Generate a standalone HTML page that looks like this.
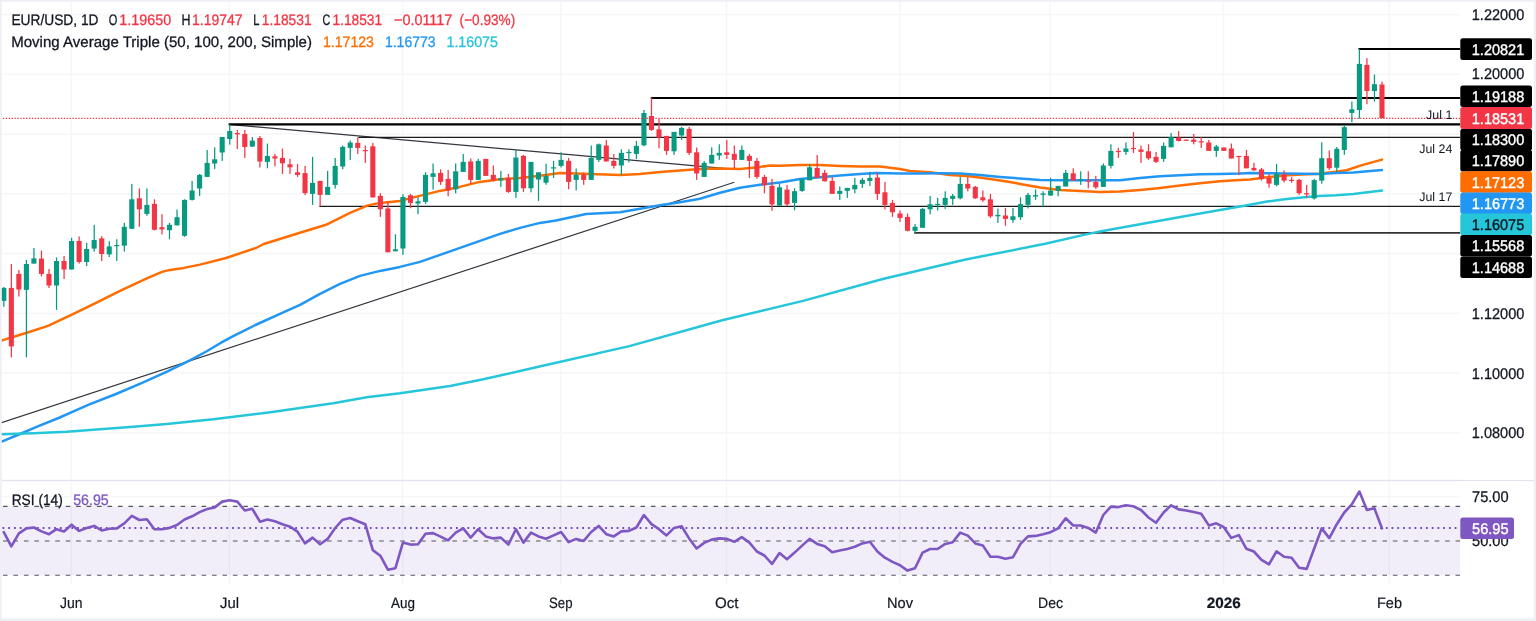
<!DOCTYPE html>
<html><head><meta charset="utf-8"><title>EUR/USD 1D</title>
<style>html,body{margin:0;padding:0;background:#fff;}body{width:1536px;height:621px;overflow:hidden;font-family:"Liberation Sans",sans-serif;}</style>
</head><body>
<svg width="1536" height="621" viewBox="0 0 1536 621" style="display:block;will-change:transform" text-rendering="geometricPrecision">
<rect width="1536" height="621" fill="#ffffff"/>
<rect x="70.53" y="0" width="1.5" height="480" fill="#f5f6f6"/>
<rect x="70.53" y="481" width="1.5" height="103" fill="#f5f6f6"/>
<rect x="228.68" y="0" width="1.5" height="480" fill="#f5f6f6"/>
<rect x="228.68" y="481" width="1.5" height="103" fill="#f5f6f6"/>
<rect x="401.89" y="0" width="1.5" height="480" fill="#f5f6f6"/>
<rect x="401.89" y="481" width="1.5" height="103" fill="#f5f6f6"/>
<rect x="560.04" y="0" width="1.5" height="480" fill="#f5f6f6"/>
<rect x="560.04" y="481" width="1.5" height="103" fill="#f5f6f6"/>
<rect x="725.72" y="0" width="1.5" height="480" fill="#f5f6f6"/>
<rect x="725.72" y="481" width="1.5" height="103" fill="#f5f6f6"/>
<rect x="898.94" y="0" width="1.5" height="480" fill="#f5f6f6"/>
<rect x="898.94" y="481" width="1.5" height="103" fill="#f5f6f6"/>
<rect x="1049.56" y="0" width="1.5" height="480" fill="#f5f6f6"/>
<rect x="1049.56" y="481" width="1.5" height="103" fill="#f5f6f6"/>
<rect x="1222.77" y="0" width="1.5" height="480" fill="#f5f6f6"/>
<rect x="1222.77" y="481" width="1.5" height="103" fill="#f5f6f6"/>
<rect x="1388.45" y="0" width="1.5" height="480" fill="#f5f6f6"/>
<rect x="1388.45" y="481" width="1.5" height="103" fill="#f5f6f6"/>
<rect x="0" y="13.80" width="1460.3" height="1.5" fill="#f5f6f6"/>
<rect x="0" y="73.55" width="1460.3" height="1.5" fill="#f5f6f6"/>
<rect x="0" y="133.30" width="1460.3" height="1.5" fill="#f5f6f6"/>
<rect x="0" y="193.05" width="1460.3" height="1.5" fill="#f5f6f6"/>
<rect x="0" y="252.80" width="1460.3" height="1.5" fill="#f5f6f6"/>
<rect x="0" y="312.55" width="1460.3" height="1.5" fill="#f5f6f6"/>
<rect x="0" y="372.30" width="1460.3" height="1.5" fill="#f5f6f6"/>
<rect x="0" y="432.05" width="1460.3" height="1.5" fill="#f5f6f6"/>
<rect x="0" y="496.1" width="1460.3" height="1.25" fill="#f5f6f6"/>
<rect x="0" y="479.8" width="1536" height="1.3" fill="#e0e3eb"/>
<rect x="0" y="506.3" width="1460.3" height="68.9" fill="#7e57c2" fill-opacity="0.1"/>
<line x1="3" y1="506.3" x2="1460.3" y2="506.3" stroke="#55585f" stroke-width="1.15" stroke-dasharray="4.6 5.85"/>
<line x1="3" y1="540.9" x2="1460.3" y2="540.9" stroke="#85888f" stroke-width="1.5" stroke-dasharray="4.6 5.85"/>
<line x1="3" y1="575.2" x2="1460.3" y2="575.2" stroke="#55585f" stroke-width="1.15" stroke-dasharray="4.6 5.85"/>
<line x1="0" y1="528" x2="1460.3" y2="528" stroke="#6f45c4" stroke-width="1.9" stroke-dasharray="1.75 3.99" stroke-dashoffset="-2.5"/>
<polyline points="3.8,532.2 11.3,546.3 18.9,533.4 26.4,528.4 33.9,527.5 41.5,531.4 49.0,534.2 56.5,529.2 64.0,531.4 71.6,524.7 79.1,530.9 86.6,528.0 94.2,525.9 101.7,530.5 109.2,528.7 116.8,528.4 124.3,523.3 131.8,515.8 139.4,520.0 146.9,519.2 154.4,529.2 161.9,529.2 169.5,527.9 177.0,525.0 184.5,519.5 192.1,516.3 199.6,512.1 207.1,509.1 214.7,507.4 222.2,501.6 229.7,500.2 237.3,501.6 244.8,510.5 252.3,508.8 259.9,521.7 267.4,519.5 274.9,521.2 282.4,524.2 290.0,526.7 297.5,531.7 305.0,543.4 312.6,537.6 320.1,544.3 327.6,538.9 335.2,528.0 342.7,519.7 350.2,518.0 357.8,521.2 365.3,524.2 372.8,550.1 380.3,555.7 387.9,569.7 395.4,568.2 402.9,542.6 410.5,544.6 418.0,544.3 425.5,533.7 433.1,533.1 440.6,536.7 448.1,540.4 455.7,532.6 463.2,528.4 470.7,537.6 478.2,529.2 485.8,536.4 493.3,538.4 500.8,537.6 508.4,544.6 515.9,529.2 523.4,542.6 531.0,532.6 538.5,536.4 546.0,538.7 553.6,535.4 561.1,532.0 568.6,542.1 576.2,538.9 583.7,540.9 591.2,532.0 598.7,525.9 606.3,534.2 613.8,536.4 621.3,531.4 628.9,530.9 636.4,527.5 643.9,515.0 651.5,524.2 659.0,529.2 666.5,535.4 674.1,527.9 681.6,526.2 689.1,538.4 696.6,548.5 704.2,542.9 711.7,539.6 719.2,538.4 726.8,538.9 734.3,541.8 741.8,537.1 749.4,542.6 756.9,551.5 764.4,555.5 772.0,563.9 779.5,553.0 787.0,559.3 794.6,552.6 802.1,545.6 809.6,538.9 817.1,543.9 824.7,546.3 832.2,552.3 839.7,550.5 847.3,549.0 854.8,546.8 862.3,543.4 869.9,541.8 877.4,551.5 884.9,557.7 892.5,561.9 900.0,565.2 907.5,570.6 915.0,568.2 922.6,552.6 930.1,549.0 937.6,549.0 945.2,543.9 952.7,542.3 960.2,532.6 967.8,535.6 975.3,543.4 982.8,545.4 990.4,556.8 997.9,556.8 1005.4,558.8 1013.0,557.2 1020.5,543.9 1028.0,536.4 1035.5,535.9 1043.1,534.2 1050.6,532.2 1058.1,528.4 1065.7,518.3 1073.2,525.5 1080.7,525.5 1088.3,527.9 1095.8,532.6 1103.3,515.0 1110.9,506.6 1118.4,507.1 1125.9,505.3 1133.4,506.3 1141.0,510.0 1148.5,517.5 1156.0,522.8 1163.6,512.5 1171.1,505.3 1178.6,509.4 1186.2,510.5 1193.7,512.1 1201.2,513.8 1208.8,525.4 1216.3,523.3 1223.8,527.2 1231.3,537.9 1238.9,535.1 1246.4,548.8 1253.9,551.5 1261.5,559.8 1269.0,564.4 1276.5,551.3 1284.1,556.8 1291.6,557.7 1299.1,567.7 1306.7,568.9 1314.2,548.5 1321.7,528.4 1329.3,538.1 1336.8,524.2 1344.3,512.5 1351.8,504.4 1359.4,491.5 1366.9,510.0 1374.4,508.3 1382.0,528.4" fill="none" stroke="#7e57c2" stroke-width="2.6" stroke-linejoin="round" stroke-linecap="round"/>
<line x1="0" y1="423.2" x2="734.3" y2="182.2" stroke="#33363d" stroke-width="1.15"/>
<line x1="228.7" y1="124.4" x2="726.8" y2="168.6" stroke="#33363d" stroke-width="1.15"/>
<line x1="1358.5" y1="49.0" x2="1460.3" y2="49.0" stroke="#000" stroke-width="2.2"/>
<line x1="650.8" y1="98.0" x2="1460.3" y2="98.0" stroke="#000" stroke-width="2.2"/>
<line x1="228.7" y1="124.4" x2="1460.3" y2="124.4" stroke="#000" stroke-width="2.2"/>
<line x1="358.3" y1="137.4" x2="1460.3" y2="137.4" stroke="#1c1c1c" stroke-width="1.3"/>
<line x1="319.4" y1="206.3" x2="1460.3" y2="206.3" stroke="#1c1c1c" stroke-width="1.3"/>
<line x1="914.2" y1="232.8" x2="1460.3" y2="232.8" stroke="#333" stroke-width="1.8"/>
<polyline points="0.0,341.0 2.0,340.4 26.0,333.0 48.0,325.9 71.3,314.9 94.0,303.9 120.0,290.9 148.0,277.9 162.0,271.9 170.0,269.9 184.0,267.9 200.0,264.6 226.0,258.0 256.0,248.0 263.7,244.0 300.0,232.8 326.0,224.8 350.0,212.8 367.9,205.4 379.9,202.9 399.8,200.9 419.8,195.9 439.8,190.9 459.7,186.9 479.7,181.9 499.7,179.3 519.6,177.9 540.0,175.7 560.0,172.9 590.0,173.9 620.0,174.9 640.0,173.9 660.0,171.9 680.0,170.5 700.0,168.9 720.0,168.5 740.0,168.9 760.0,166.9 770.0,165.5 780.0,165.7 800.0,164.9 820.0,164.9 840.0,165.9 860.0,166.5 880.0,166.5 900.0,168.9 910.0,170.9 930.0,172.3 950.0,174.9 970.0,176.3 990.0,178.9 1010.0,181.9 1020.0,183.9 1040.0,187.5 1060.0,189.9 1080.0,190.9 1100.0,191.9 1120.0,191.5 1140.0,189.9 1160.0,187.9 1180.0,185.5 1200.0,183.3 1220.0,181.3 1240.0,179.9 1250.0,179.5 1267.0,177.2 1284.5,175.5 1301.7,174.6 1318.9,173.7 1336.0,171.7 1346.5,170.3 1362.0,165.1 1382.0,159.6" fill="none" stroke="#ff6d00" stroke-width="2.5" stroke-linejoin="round" stroke-linecap="round"/>
<polyline points="0.0,442.4 1.7,441.7 20.0,434.0 39.0,425.9 58.6,418.0 78.0,409.3 90.0,404.2 116.0,394.0 142.1,382.9 168.1,371.2 190.3,360.2 207.2,351.0 220.2,343.2 233.2,336.1 246.3,329.6 255.4,325.0 283.3,312.3 300.0,304.8 320.0,293.8 340.0,283.9 360.0,275.9 380.0,270.9 400.0,266.9 420.0,261.9 440.0,254.9 460.0,247.9 480.0,240.9 500.0,233.9 520.0,227.9 540.0,222.9 556.0,220.5 586.0,214.0 620.0,212.2 640.0,208.8 660.0,205.2 680.0,202.2 700.0,198.8 720.0,192.8 740.0,187.8 760.0,184.8 780.0,182.6 800.0,178.9 820.0,177.3 840.0,175.5 860.0,173.9 876.0,172.9 900.0,173.5 920.0,173.5 940.0,173.3 960.0,173.5 980.0,174.9 1000.0,176.9 1020.0,178.5 1040.0,179.9 1060.0,180.3 1080.0,180.3 1100.0,180.3 1120.0,180.3 1140.0,177.9 1160.0,176.3 1180.0,175.3 1200.0,174.3 1220.0,173.9 1240.0,173.5 1250.0,172.9 1284.5,173.4 1318.9,174.1 1336.0,172.9 1353.4,172.4 1382.0,170.1" fill="none" stroke="#2196f3" stroke-width="2.5" stroke-linejoin="round" stroke-linecap="round"/>
<polyline points="0.0,434.3 1.7,434.3 33.3,433.3 66.7,431.7 100.0,429.3 133.3,426.7 166.7,424.0 213.3,419.3 266.7,412.7 333.3,403.3 366.7,397.3 400.0,393.3 450.0,386.0 483.3,379.3 540.6,366.3 629.4,346.1 722.2,320.3 803.0,300.9 883.7,278.7 964.5,259.7 1045.2,243.8 1083.9,234.9 1100.0,231.4 1140.0,224.2 1200.0,213.6 1250.0,204.7 1267.0,201.6 1284.5,199.2 1301.7,197.5 1318.9,196.1 1336.0,195.3 1353.4,193.9 1382.0,190.6" fill="none" stroke="#26c6da" stroke-width="2.5" stroke-linejoin="round" stroke-linecap="round"/>
<rect x="3.20" y="286.9" width="1.25" height="20.0" fill="#089981"/>
<rect x="1.25" y="287.9" width="5.1" height="13.0" fill="#089981"/>
<rect x="10.73" y="264.0" width="1.25" height="93.4" fill="#f23645"/>
<rect x="8.78" y="287.9" width="5.1" height="58.5" fill="#f23645"/>
<rect x="18.26" y="270.0" width="1.25" height="26.5" fill="#f23645"/>
<rect x="16.31" y="273.9" width="5.1" height="15.6" fill="#f23645"/>
<rect x="25.79" y="260.0" width="1.25" height="97.4" fill="#089981"/>
<rect x="23.84" y="264.0" width="5.1" height="25.9" fill="#089981"/>
<rect x="33.32" y="248.0" width="1.25" height="15.6" fill="#089981"/>
<rect x="31.37" y="258.4" width="5.1" height="5.2" fill="#089981"/>
<rect x="40.85" y="250.6" width="1.25" height="25.9" fill="#f23645"/>
<rect x="38.90" y="258.6" width="5.1" height="15.3" fill="#f23645"/>
<rect x="48.38" y="269.0" width="1.25" height="19.0" fill="#f23645"/>
<rect x="46.43" y="273.9" width="5.1" height="11.6" fill="#f23645"/>
<rect x="55.91" y="257.4" width="1.25" height="52.5" fill="#089981"/>
<rect x="53.96" y="261.0" width="5.1" height="24.5" fill="#089981"/>
<rect x="63.44" y="256.0" width="1.25" height="23.0" fill="#f23645"/>
<rect x="61.49" y="261.0" width="5.1" height="8.5" fill="#f23645"/>
<rect x="70.98" y="237.8" width="1.25" height="31.7" fill="#089981"/>
<rect x="69.03" y="241.0" width="5.1" height="28.5" fill="#089981"/>
<rect x="78.51" y="236.4" width="1.25" height="27.2" fill="#f23645"/>
<rect x="76.56" y="241.0" width="5.1" height="21.0" fill="#f23645"/>
<rect x="86.04" y="242.8" width="1.25" height="23.2" fill="#089981"/>
<rect x="84.09" y="249.0" width="5.1" height="13.0" fill="#089981"/>
<rect x="93.57" y="224.8" width="1.25" height="26.8" fill="#089981"/>
<rect x="91.62" y="240.0" width="5.1" height="8.6" fill="#089981"/>
<rect x="101.10" y="236.2" width="1.25" height="24.8" fill="#f23645"/>
<rect x="99.15" y="238.4" width="5.1" height="15.6" fill="#f23645"/>
<rect x="108.63" y="241.2" width="1.25" height="15.8" fill="#089981"/>
<rect x="106.68" y="246.4" width="5.1" height="8.0" fill="#089981"/>
<rect x="116.16" y="239.2" width="1.25" height="21.8" fill="#089981"/>
<rect x="114.21" y="245.0" width="5.1" height="1.2" fill="#089981"/>
<rect x="123.69" y="222.8" width="1.25" height="28.8" fill="#089981"/>
<rect x="121.74" y="226.8" width="5.1" height="18.8" fill="#089981"/>
<rect x="131.22" y="183.9" width="1.25" height="44.9" fill="#089981"/>
<rect x="129.27" y="199.3" width="5.1" height="29.5" fill="#089981"/>
<rect x="138.75" y="188.5" width="1.25" height="38.3" fill="#f23645"/>
<rect x="136.80" y="198.3" width="5.1" height="11.0" fill="#f23645"/>
<rect x="146.28" y="188.5" width="1.25" height="27.3" fill="#089981"/>
<rect x="144.33" y="204.9" width="5.1" height="9.0" fill="#089981"/>
<rect x="153.82" y="199.3" width="1.25" height="31.1" fill="#f23645"/>
<rect x="151.87" y="203.9" width="5.1" height="25.9" fill="#f23645"/>
<rect x="161.35" y="214.2" width="1.25" height="20.2" fill="#f23645"/>
<rect x="159.40" y="227.2" width="5.1" height="2.2" fill="#f23645"/>
<rect x="168.88" y="222.8" width="1.25" height="16.4" fill="#089981"/>
<rect x="166.93" y="224.8" width="5.1" height="5.4" fill="#089981"/>
<rect x="176.41" y="209.5" width="1.25" height="15.9" fill="#089981"/>
<rect x="174.46" y="217.2" width="5.1" height="8.2" fill="#089981"/>
<rect x="183.94" y="199.3" width="1.25" height="37.5" fill="#089981"/>
<rect x="181.99" y="199.9" width="5.1" height="35.9" fill="#089981"/>
<rect x="191.47" y="180.9" width="1.25" height="19.6" fill="#089981"/>
<rect x="189.52" y="190.5" width="5.1" height="9.4" fill="#089981"/>
<rect x="199.00" y="173.9" width="1.25" height="22.0" fill="#089981"/>
<rect x="197.05" y="174.9" width="5.1" height="13.6" fill="#089981"/>
<rect x="206.53" y="150.0" width="1.25" height="26.9" fill="#089981"/>
<rect x="204.58" y="162.9" width="5.1" height="14.0" fill="#089981"/>
<rect x="214.06" y="147.4" width="1.25" height="21.5" fill="#089981"/>
<rect x="212.11" y="159.3" width="5.1" height="4.2" fill="#089981"/>
<rect x="221.59" y="137.0" width="1.25" height="23.9" fill="#089981"/>
<rect x="219.64" y="137.0" width="5.1" height="15.5" fill="#089981"/>
<rect x="229.13" y="124.4" width="1.25" height="20.2" fill="#089981"/>
<rect x="227.18" y="131.0" width="5.1" height="8.0" fill="#089981"/>
<rect x="236.66" y="130.0" width="1.25" height="19.0" fill="#f23645"/>
<rect x="234.71" y="133.0" width="5.1" height="1.4" fill="#f23645"/>
<rect x="244.19" y="130.0" width="1.25" height="27.9" fill="#f23645"/>
<rect x="242.24" y="134.0" width="5.1" height="13.0" fill="#f23645"/>
<rect x="251.72" y="137.0" width="1.25" height="10.0" fill="#089981"/>
<rect x="249.77" y="140.6" width="5.1" height="6.0" fill="#089981"/>
<rect x="259.25" y="136.0" width="1.25" height="31.5" fill="#f23645"/>
<rect x="257.30" y="138.0" width="5.1" height="23.5" fill="#f23645"/>
<rect x="266.78" y="143.6" width="1.25" height="24.7" fill="#089981"/>
<rect x="264.83" y="155.9" width="5.1" height="6.0" fill="#089981"/>
<rect x="274.31" y="153.9" width="1.25" height="12.4" fill="#f23645"/>
<rect x="272.36" y="156.3" width="5.1" height="2.2" fill="#f23645"/>
<rect x="281.84" y="148.6" width="1.25" height="25.3" fill="#f23645"/>
<rect x="279.89" y="157.9" width="5.1" height="5.4" fill="#f23645"/>
<rect x="289.37" y="158.9" width="1.25" height="15.0" fill="#f23645"/>
<rect x="287.42" y="164.3" width="5.1" height="3.0" fill="#f23645"/>
<rect x="296.91" y="163.9" width="1.25" height="13.0" fill="#f23645"/>
<rect x="294.96" y="172.3" width="5.1" height="2.6" fill="#f23645"/>
<rect x="304.44" y="165.9" width="1.25" height="29.2" fill="#f23645"/>
<rect x="302.49" y="173.1" width="5.1" height="20.0" fill="#f23645"/>
<rect x="311.97" y="156.9" width="1.25" height="48.0" fill="#089981"/>
<rect x="310.02" y="182.9" width="5.1" height="11.0" fill="#089981"/>
<rect x="319.50" y="180.9" width="1.25" height="25.5" fill="#f23645"/>
<rect x="317.55" y="180.9" width="5.1" height="14.0" fill="#f23645"/>
<rect x="327.03" y="170.9" width="1.25" height="24.0" fill="#089981"/>
<rect x="325.08" y="186.9" width="5.1" height="8.0" fill="#089981"/>
<rect x="334.56" y="157.9" width="1.25" height="30.6" fill="#089981"/>
<rect x="332.61" y="165.9" width="5.1" height="19.0" fill="#089981"/>
<rect x="342.09" y="145.5" width="1.25" height="23.8" fill="#089981"/>
<rect x="340.14" y="146.9" width="5.1" height="19.6" fill="#089981"/>
<rect x="349.62" y="140.5" width="1.25" height="19.4" fill="#089981"/>
<rect x="347.67" y="142.5" width="5.1" height="5.4" fill="#089981"/>
<rect x="357.15" y="137.4" width="1.25" height="16.5" fill="#f23645"/>
<rect x="355.20" y="142.9" width="5.1" height="5.0" fill="#f23645"/>
<rect x="364.68" y="145.5" width="1.25" height="17.4" fill="#f23645"/>
<rect x="362.73" y="150.0" width="5.1" height="1.2" fill="#f23645"/>
<rect x="372.22" y="142.9" width="1.25" height="55.0" fill="#f23645"/>
<rect x="370.27" y="146.3" width="5.1" height="51.0" fill="#f23645"/>
<rect x="379.75" y="193.3" width="1.25" height="23.5" fill="#f23645"/>
<rect x="377.80" y="195.9" width="5.1" height="13.3" fill="#f23645"/>
<rect x="387.28" y="201.4" width="1.25" height="50.9" fill="#f23645"/>
<rect x="385.33" y="208.5" width="5.1" height="43.8" fill="#f23645"/>
<rect x="394.81" y="234.3" width="1.25" height="17.0" fill="#089981"/>
<rect x="392.86" y="249.3" width="5.1" height="2.0" fill="#089981"/>
<rect x="402.34" y="194.2" width="1.25" height="60.7" fill="#089981"/>
<rect x="400.39" y="197.0" width="5.1" height="51.5" fill="#089981"/>
<rect x="409.87" y="193.9" width="1.25" height="14.3" fill="#f23645"/>
<rect x="407.92" y="195.3" width="5.1" height="7.6" fill="#f23645"/>
<rect x="417.40" y="197.3" width="1.25" height="16.9" fill="#089981"/>
<rect x="415.45" y="201.3" width="5.1" height="2.2" fill="#089981"/>
<rect x="424.93" y="172.3" width="1.25" height="31.6" fill="#089981"/>
<rect x="422.98" y="174.9" width="5.1" height="27.0" fill="#089981"/>
<rect x="432.46" y="163.5" width="1.25" height="26.0" fill="#089981"/>
<rect x="430.51" y="173.3" width="5.1" height="3.6" fill="#089981"/>
<rect x="439.99" y="169.3" width="1.25" height="15.6" fill="#f23645"/>
<rect x="438.04" y="172.9" width="5.1" height="9.0" fill="#f23645"/>
<rect x="447.52" y="169.9" width="1.25" height="26.4" fill="#f23645"/>
<rect x="445.57" y="178.9" width="5.1" height="11.6" fill="#f23645"/>
<rect x="455.06" y="163.5" width="1.25" height="29.8" fill="#089981"/>
<rect x="453.11" y="171.3" width="5.1" height="18.0" fill="#089981"/>
<rect x="462.59" y="153.9" width="1.25" height="18.0" fill="#089981"/>
<rect x="460.64" y="161.9" width="5.1" height="10.0" fill="#089981"/>
<rect x="470.12" y="158.5" width="1.25" height="25.4" fill="#f23645"/>
<rect x="468.17" y="161.5" width="5.1" height="18.4" fill="#f23645"/>
<rect x="477.65" y="158.9" width="1.25" height="21.0" fill="#089981"/>
<rect x="475.70" y="160.9" width="5.1" height="19.0" fill="#089981"/>
<rect x="485.18" y="158.9" width="1.25" height="17.0" fill="#f23645"/>
<rect x="483.23" y="158.9" width="5.1" height="17.0" fill="#f23645"/>
<rect x="492.71" y="165.5" width="1.25" height="16.0" fill="#f23645"/>
<rect x="490.76" y="174.9" width="5.1" height="5.4" fill="#f23645"/>
<rect x="500.24" y="170.9" width="1.25" height="16.0" fill="#089981"/>
<rect x="498.29" y="178.3" width="5.1" height="2.2" fill="#089981"/>
<rect x="507.77" y="173.9" width="1.25" height="19.0" fill="#f23645"/>
<rect x="505.82" y="177.9" width="5.1" height="14.0" fill="#f23645"/>
<rect x="515.30" y="149.9" width="1.25" height="48.0" fill="#089981"/>
<rect x="513.35" y="157.5" width="5.1" height="34.4" fill="#089981"/>
<rect x="522.84" y="154.9" width="1.25" height="37.0" fill="#f23645"/>
<rect x="520.89" y="155.9" width="5.1" height="32.4" fill="#f23645"/>
<rect x="530.37" y="161.9" width="1.25" height="30.4" fill="#089981"/>
<rect x="528.42" y="161.9" width="5.1" height="26.4" fill="#089981"/>
<rect x="537.90" y="172.3" width="1.25" height="28.6" fill="#089981"/>
<rect x="535.95" y="172.3" width="5.1" height="7.2" fill="#089981"/>
<rect x="545.43" y="163.7" width="1.25" height="21.1" fill="#089981"/>
<rect x="543.48" y="175.9" width="5.1" height="6.8" fill="#089981"/>
<rect x="552.96" y="160.9" width="1.25" height="17.0" fill="#089981"/>
<rect x="551.01" y="167.3" width="5.1" height="1.2" fill="#089981"/>
<rect x="560.49" y="152.3" width="1.25" height="15.2" fill="#089981"/>
<rect x="558.54" y="159.9" width="5.1" height="6.0" fill="#089981"/>
<rect x="568.02" y="157.9" width="1.25" height="31.3" fill="#f23645"/>
<rect x="566.07" y="160.9" width="5.1" height="21.0" fill="#f23645"/>
<rect x="575.55" y="168.5" width="1.25" height="21.9" fill="#089981"/>
<rect x="573.60" y="174.9" width="5.1" height="5.0" fill="#089981"/>
<rect x="583.08" y="172.5" width="1.25" height="12.3" fill="#f23645"/>
<rect x="581.13" y="174.9" width="5.1" height="5.0" fill="#f23645"/>
<rect x="590.61" y="145.5" width="1.25" height="34.4" fill="#089981"/>
<rect x="588.66" y="157.9" width="5.1" height="22.0" fill="#089981"/>
<rect x="598.14" y="143.5" width="1.25" height="18.4" fill="#089981"/>
<rect x="596.20" y="144.3" width="5.1" height="15.6" fill="#089981"/>
<rect x="605.68" y="139.9" width="1.25" height="21.6" fill="#f23645"/>
<rect x="603.73" y="145.5" width="5.1" height="16.0" fill="#f23645"/>
<rect x="613.21" y="153.9" width="1.25" height="14.6" fill="#f23645"/>
<rect x="611.26" y="160.9" width="5.1" height="5.0" fill="#f23645"/>
<rect x="620.74" y="149.3" width="1.25" height="25.6" fill="#089981"/>
<rect x="618.79" y="152.9" width="5.1" height="12.6" fill="#089981"/>
<rect x="628.27" y="149.3" width="1.25" height="13.2" fill="#089981"/>
<rect x="626.32" y="151.9" width="5.1" height="1.2" fill="#089981"/>
<rect x="635.80" y="140.9" width="1.25" height="18.0" fill="#089981"/>
<rect x="633.85" y="145.9" width="5.1" height="8.0" fill="#089981"/>
<rect x="643.33" y="110.0" width="1.25" height="36.3" fill="#089981"/>
<rect x="641.38" y="113.0" width="5.1" height="32.3" fill="#089981"/>
<rect x="650.86" y="97.6" width="1.25" height="33.3" fill="#f23645"/>
<rect x="648.91" y="116.0" width="5.1" height="13.9" fill="#f23645"/>
<rect x="658.39" y="119.0" width="1.25" height="29.3" fill="#f23645"/>
<rect x="656.44" y="129.3" width="5.1" height="8.2" fill="#f23645"/>
<rect x="665.92" y="135.9" width="1.25" height="19.0" fill="#f23645"/>
<rect x="663.97" y="135.9" width="5.1" height="15.0" fill="#f23645"/>
<rect x="673.46" y="131.9" width="1.25" height="23.0" fill="#089981"/>
<rect x="671.51" y="131.9" width="5.1" height="19.4" fill="#089981"/>
<rect x="680.99" y="126.9" width="1.25" height="13.0" fill="#089981"/>
<rect x="679.04" y="127.9" width="5.1" height="7.6" fill="#089981"/>
<rect x="688.52" y="126.9" width="1.25" height="28.0" fill="#f23645"/>
<rect x="686.57" y="128.9" width="5.1" height="24.0" fill="#f23645"/>
<rect x="696.05" y="147.5" width="1.25" height="32.4" fill="#f23645"/>
<rect x="694.10" y="152.3" width="5.1" height="21.2" fill="#f23645"/>
<rect x="703.58" y="160.9" width="1.25" height="16.0" fill="#089981"/>
<rect x="701.63" y="162.9" width="5.1" height="14.0" fill="#089981"/>
<rect x="711.11" y="147.3" width="1.25" height="16.2" fill="#089981"/>
<rect x="709.16" y="154.9" width="5.1" height="8.6" fill="#089981"/>
<rect x="718.64" y="144.3" width="1.25" height="15.6" fill="#089981"/>
<rect x="716.69" y="152.9" width="5.1" height="2.6" fill="#089981"/>
<rect x="726.17" y="139.9" width="1.25" height="19.0" fill="#f23645"/>
<rect x="724.22" y="152.3" width="5.1" height="2.6" fill="#f23645"/>
<rect x="733.70" y="145.5" width="1.25" height="23.0" fill="#f23645"/>
<rect x="731.75" y="153.9" width="5.1" height="6.0" fill="#f23645"/>
<rect x="741.23" y="145.5" width="1.25" height="14.4" fill="#089981"/>
<rect x="739.28" y="149.9" width="5.1" height="10.0" fill="#089981"/>
<rect x="748.76" y="153.9" width="1.25" height="24.0" fill="#f23645"/>
<rect x="746.82" y="155.9" width="5.1" height="5.0" fill="#f23645"/>
<rect x="756.30" y="157.9" width="1.25" height="21.0" fill="#f23645"/>
<rect x="754.35" y="160.9" width="5.1" height="16.0" fill="#f23645"/>
<rect x="763.83" y="174.9" width="1.25" height="18.5" fill="#f23645"/>
<rect x="761.88" y="176.9" width="5.1" height="8.3" fill="#f23645"/>
<rect x="771.36" y="178.9" width="1.25" height="31.9" fill="#f23645"/>
<rect x="769.41" y="185.8" width="5.1" height="18.6" fill="#f23645"/>
<rect x="778.89" y="183.9" width="1.25" height="21.7" fill="#089981"/>
<rect x="776.94" y="187.3" width="5.1" height="18.3" fill="#089981"/>
<rect x="786.42" y="184.9" width="1.25" height="21.0" fill="#f23645"/>
<rect x="784.47" y="189.6" width="5.1" height="14.7" fill="#f23645"/>
<rect x="793.95" y="188.2" width="1.25" height="22.0" fill="#089981"/>
<rect x="792.00" y="191.2" width="5.1" height="11.7" fill="#089981"/>
<rect x="801.48" y="179.3" width="1.25" height="12.6" fill="#089981"/>
<rect x="799.53" y="179.3" width="5.1" height="11.6" fill="#089981"/>
<rect x="809.01" y="164.3" width="1.25" height="16.0" fill="#089981"/>
<rect x="807.06" y="167.3" width="5.1" height="13.0" fill="#089981"/>
<rect x="816.54" y="155.0" width="1.25" height="22.9" fill="#f23645"/>
<rect x="814.59" y="167.9" width="5.1" height="10.0" fill="#f23645"/>
<rect x="824.08" y="169.9" width="1.25" height="11.4" fill="#f23645"/>
<rect x="822.13" y="172.9" width="5.1" height="8.4" fill="#f23645"/>
<rect x="831.61" y="176.9" width="1.25" height="17.0" fill="#f23645"/>
<rect x="829.66" y="180.9" width="5.1" height="13.0" fill="#f23645"/>
<rect x="839.14" y="186.5" width="1.25" height="13.4" fill="#089981"/>
<rect x="837.19" y="190.9" width="5.1" height="3.0" fill="#089981"/>
<rect x="846.67" y="187.9" width="1.25" height="10.0" fill="#089981"/>
<rect x="844.72" y="187.9" width="5.1" height="3.0" fill="#089981"/>
<rect x="854.20" y="177.9" width="1.25" height="15.4" fill="#089981"/>
<rect x="852.25" y="184.9" width="5.1" height="4.4" fill="#089981"/>
<rect x="861.73" y="177.9" width="1.25" height="10.0" fill="#089981"/>
<rect x="859.78" y="179.9" width="5.1" height="4.0" fill="#089981"/>
<rect x="869.26" y="171.9" width="1.25" height="14.0" fill="#089981"/>
<rect x="867.31" y="177.9" width="5.1" height="3.0" fill="#089981"/>
<rect x="876.79" y="172.9" width="1.25" height="27.0" fill="#f23645"/>
<rect x="874.84" y="177.5" width="5.1" height="16.4" fill="#f23645"/>
<rect x="884.32" y="181.9" width="1.25" height="27.6" fill="#f23645"/>
<rect x="882.37" y="192.3" width="5.1" height="12.6" fill="#f23645"/>
<rect x="891.85" y="199.9" width="1.25" height="17.0" fill="#f23645"/>
<rect x="889.90" y="202.9" width="5.1" height="9.4" fill="#f23645"/>
<rect x="899.38" y="210.5" width="1.25" height="11.4" fill="#f23645"/>
<rect x="897.44" y="213.5" width="5.1" height="4.4" fill="#f23645"/>
<rect x="906.92" y="213.5" width="1.25" height="17.9" fill="#f23645"/>
<rect x="904.97" y="216.9" width="5.1" height="13.9" fill="#f23645"/>
<rect x="914.45" y="223.9" width="1.25" height="8.9" fill="#089981"/>
<rect x="912.50" y="226.8" width="5.1" height="4.0" fill="#089981"/>
<rect x="921.98" y="207.9" width="1.25" height="19.9" fill="#089981"/>
<rect x="920.03" y="208.9" width="5.1" height="18.9" fill="#089981"/>
<rect x="929.51" y="195.9" width="1.25" height="18.4" fill="#089981"/>
<rect x="927.56" y="204.3" width="5.1" height="5.0" fill="#089981"/>
<rect x="937.04" y="197.9" width="1.25" height="12.6" fill="#089981"/>
<rect x="935.09" y="203.9" width="5.1" height="1.2" fill="#089981"/>
<rect x="944.57" y="191.3" width="1.25" height="17.6" fill="#089981"/>
<rect x="942.62" y="197.9" width="5.1" height="7.0" fill="#089981"/>
<rect x="952.10" y="193.9" width="1.25" height="11.0" fill="#089981"/>
<rect x="950.15" y="195.9" width="5.1" height="3.0" fill="#089981"/>
<rect x="959.63" y="176.9" width="1.25" height="22.4" fill="#089981"/>
<rect x="957.68" y="183.9" width="5.1" height="14.4" fill="#089981"/>
<rect x="967.16" y="176.9" width="1.25" height="14.4" fill="#f23645"/>
<rect x="965.21" y="183.9" width="5.1" height="4.6" fill="#f23645"/>
<rect x="974.70" y="185.9" width="1.25" height="13.0" fill="#f23645"/>
<rect x="972.75" y="186.9" width="5.1" height="11.4" fill="#f23645"/>
<rect x="982.23" y="190.5" width="1.25" height="11.4" fill="#f23645"/>
<rect x="980.28" y="197.3" width="5.1" height="3.0" fill="#f23645"/>
<rect x="989.76" y="193.9" width="1.25" height="24.0" fill="#f23645"/>
<rect x="987.81" y="199.3" width="5.1" height="17.0" fill="#f23645"/>
<rect x="997.29" y="208.5" width="1.25" height="14.4" fill="#089981"/>
<rect x="995.34" y="214.9" width="5.1" height="1.4" fill="#089981"/>
<rect x="1004.82" y="207.9" width="1.25" height="17.9" fill="#f23645"/>
<rect x="1002.87" y="215.5" width="5.1" height="3.4" fill="#f23645"/>
<rect x="1012.35" y="207.9" width="1.25" height="15.0" fill="#089981"/>
<rect x="1010.40" y="216.3" width="5.1" height="3.6" fill="#089981"/>
<rect x="1019.88" y="197.3" width="1.25" height="22.6" fill="#089981"/>
<rect x="1017.93" y="204.1" width="5.1" height="13.1" fill="#089981"/>
<rect x="1027.41" y="192.9" width="1.25" height="15.5" fill="#089981"/>
<rect x="1025.46" y="194.9" width="5.1" height="9.9" fill="#089981"/>
<rect x="1034.94" y="189.3" width="1.25" height="10.6" fill="#089981"/>
<rect x="1032.99" y="195.1" width="5.1" height="1.4" fill="#089981"/>
<rect x="1042.47" y="191.3" width="1.25" height="15.5" fill="#089981"/>
<rect x="1040.52" y="193.5" width="5.1" height="1.4" fill="#089981"/>
<rect x="1050.01" y="177.9" width="1.25" height="18.0" fill="#089981"/>
<rect x="1048.06" y="190.5" width="5.1" height="5.0" fill="#089981"/>
<rect x="1057.54" y="185.9" width="1.25" height="10.4" fill="#089981"/>
<rect x="1055.59" y="185.9" width="5.1" height="5.0" fill="#089981"/>
<rect x="1065.07" y="169.9" width="1.25" height="16.6" fill="#089981"/>
<rect x="1063.12" y="172.9" width="5.1" height="13.6" fill="#089981"/>
<rect x="1072.60" y="168.3" width="1.25" height="12.2" fill="#f23645"/>
<rect x="1070.65" y="173.3" width="5.1" height="7.2" fill="#f23645"/>
<rect x="1080.13" y="171.3" width="1.25" height="13.6" fill="#089981"/>
<rect x="1078.18" y="179.3" width="5.1" height="1.2" fill="#089981"/>
<rect x="1087.66" y="171.3" width="1.25" height="17.0" fill="#f23645"/>
<rect x="1085.71" y="180.5" width="5.1" height="1.2" fill="#f23645"/>
<rect x="1095.19" y="175.9" width="1.25" height="13.0" fill="#f23645"/>
<rect x="1093.24" y="181.9" width="5.1" height="5.4" fill="#f23645"/>
<rect x="1102.72" y="163.5" width="1.25" height="23.4" fill="#089981"/>
<rect x="1100.77" y="165.5" width="5.1" height="21.4" fill="#089981"/>
<rect x="1110.25" y="144.3" width="1.25" height="24.2" fill="#089981"/>
<rect x="1108.30" y="150.9" width="5.1" height="15.0" fill="#089981"/>
<rect x="1117.78" y="147.9" width="1.25" height="10.0" fill="#f23645"/>
<rect x="1115.83" y="150.9" width="5.1" height="1.2" fill="#f23645"/>
<rect x="1125.32" y="142.5" width="1.25" height="12.4" fill="#089981"/>
<rect x="1123.37" y="148.5" width="5.1" height="3.4" fill="#089981"/>
<rect x="1132.85" y="132.0" width="1.25" height="20.9" fill="#f23645"/>
<rect x="1130.90" y="147.9" width="5.1" height="1.2" fill="#f23645"/>
<rect x="1140.38" y="145.5" width="1.25" height="17.4" fill="#f23645"/>
<rect x="1138.43" y="149.5" width="5.1" height="2.4" fill="#f23645"/>
<rect x="1147.91" y="144.3" width="1.25" height="15.6" fill="#f23645"/>
<rect x="1145.96" y="151.3" width="5.1" height="7.0" fill="#f23645"/>
<rect x="1155.44" y="151.9" width="1.25" height="11.0" fill="#f23645"/>
<rect x="1153.49" y="156.9" width="5.1" height="5.0" fill="#f23645"/>
<rect x="1162.97" y="142.5" width="1.25" height="19.4" fill="#089981"/>
<rect x="1161.02" y="145.9" width="5.1" height="13.0" fill="#089981"/>
<rect x="1170.50" y="133.0" width="1.25" height="14.3" fill="#089981"/>
<rect x="1168.55" y="137.0" width="5.1" height="10.3" fill="#089981"/>
<rect x="1178.03" y="131.0" width="1.25" height="10.5" fill="#f23645"/>
<rect x="1176.08" y="137.6" width="5.1" height="3.4" fill="#f23645"/>
<rect x="1185.56" y="139.6" width="1.25" height="1.0" fill="#f23645"/>
<rect x="1183.61" y="139.6" width="5.1" height="1.2" fill="#f23645"/>
<rect x="1193.09" y="134.0" width="1.25" height="10.3" fill="#f23645"/>
<rect x="1191.14" y="139.6" width="5.1" height="2.3" fill="#f23645"/>
<rect x="1200.62" y="137.0" width="1.25" height="10.9" fill="#f23645"/>
<rect x="1198.67" y="141.3" width="5.1" height="1.2" fill="#f23645"/>
<rect x="1208.16" y="140.0" width="1.25" height="10.9" fill="#f23645"/>
<rect x="1206.21" y="142.5" width="5.1" height="8.4" fill="#f23645"/>
<rect x="1215.69" y="144.9" width="1.25" height="12.0" fill="#089981"/>
<rect x="1213.74" y="146.5" width="5.1" height="4.4" fill="#089981"/>
<rect x="1223.22" y="147.5" width="1.25" height="3.4" fill="#f23645"/>
<rect x="1221.27" y="147.5" width="5.1" height="3.4" fill="#f23645"/>
<rect x="1230.75" y="143.5" width="1.25" height="15.0" fill="#f23645"/>
<rect x="1228.80" y="148.5" width="5.1" height="10.0" fill="#f23645"/>
<rect x="1238.28" y="155.9" width="1.25" height="19.0" fill="#f23645"/>
<rect x="1236.33" y="155.9" width="5.1" height="1.2" fill="#f23645"/>
<rect x="1245.81" y="149.9" width="1.25" height="18.4" fill="#f23645"/>
<rect x="1243.86" y="155.9" width="5.1" height="12.4" fill="#f23645"/>
<rect x="1253.34" y="162.8" width="1.25" height="8.1" fill="#f23645"/>
<rect x="1251.39" y="167.9" width="5.1" height="2.4" fill="#f23645"/>
<rect x="1260.87" y="168.0" width="1.25" height="12.7" fill="#f23645"/>
<rect x="1258.92" y="169.4" width="5.1" height="9.5" fill="#f23645"/>
<rect x="1268.40" y="174.1" width="1.25" height="13.6" fill="#f23645"/>
<rect x="1266.45" y="178.0" width="5.1" height="5.6" fill="#f23645"/>
<rect x="1275.94" y="163.9" width="1.25" height="22.4" fill="#089981"/>
<rect x="1273.99" y="173.7" width="5.1" height="11.2" fill="#089981"/>
<rect x="1283.47" y="170.3" width="1.25" height="12.1" fill="#f23645"/>
<rect x="1281.52" y="174.3" width="5.1" height="6.3" fill="#f23645"/>
<rect x="1291.00" y="177.2" width="1.25" height="5.5" fill="#f23645"/>
<rect x="1289.05" y="179.8" width="5.1" height="1.2" fill="#f23645"/>
<rect x="1298.53" y="178.9" width="1.25" height="16.0" fill="#f23645"/>
<rect x="1296.58" y="179.8" width="5.1" height="13.4" fill="#f23645"/>
<rect x="1306.06" y="184.9" width="1.25" height="12.6" fill="#f23645"/>
<rect x="1304.11" y="193.2" width="5.1" height="1.2" fill="#f23645"/>
<rect x="1313.59" y="178.9" width="1.25" height="20.7" fill="#089981"/>
<rect x="1311.64" y="180.1" width="5.1" height="18.3" fill="#089981"/>
<rect x="1321.12" y="142.4" width="1.25" height="41.3" fill="#089981"/>
<rect x="1319.17" y="158.2" width="5.1" height="22.4" fill="#089981"/>
<rect x="1328.65" y="150.5" width="1.25" height="19.4" fill="#f23645"/>
<rect x="1326.70" y="158.2" width="5.1" height="10.0" fill="#f23645"/>
<rect x="1336.18" y="147.0" width="1.25" height="25.0" fill="#089981"/>
<rect x="1334.23" y="148.8" width="5.1" height="18.9" fill="#089981"/>
<rect x="1343.71" y="125.2" width="1.25" height="29.6" fill="#089981"/>
<rect x="1341.76" y="127.2" width="5.1" height="22.8" fill="#089981"/>
<rect x="1351.25" y="101.6" width="1.25" height="20.7" fill="#089981"/>
<rect x="1349.30" y="109.3" width="5.1" height="3.6" fill="#089981"/>
<rect x="1358.78" y="49.0" width="1.25" height="69.7" fill="#089981"/>
<rect x="1356.83" y="63.9" width="5.1" height="46.1" fill="#089981"/>
<rect x="1366.31" y="58.1" width="1.25" height="46.1" fill="#f23645"/>
<rect x="1364.36" y="64.9" width="5.1" height="26.1" fill="#f23645"/>
<rect x="1373.84" y="74.5" width="1.25" height="27.1" fill="#089981"/>
<rect x="1371.89" y="84.2" width="5.1" height="6.8" fill="#089981"/>
<rect x="1381.37" y="81.6" width="1.25" height="36.5" fill="#f23645"/>
<rect x="1379.42" y="84.5" width="5.1" height="33.6" fill="#f23645"/>
<line x1="0" y1="118.4" x2="1460.3" y2="118.4" stroke="#f23645" stroke-width="1.35" stroke-dasharray="1.35 1.55"/>
<text x="1452.3" y="118.5" text-anchor="end" font-family="Liberation Sans, sans-serif" font-size="12.4" fill="#131722">Jul 1</text>
<text x="1452.3" y="152.6" text-anchor="end" font-family="Liberation Sans, sans-serif" font-size="12.4" fill="#131722">Jul 24</text>
<text x="1452.3" y="201.2" text-anchor="end" font-family="Liberation Sans, sans-serif" font-size="12.4" fill="#131722">Jul 17</text>
<text x="11.4" y="24.7" textLength="87.1" lengthAdjust="spacingAndGlyphs" font-family="Liberation Sans, sans-serif" font-size="15.2" font-weight="normal" fill="#131722" stroke="#131722" stroke-width="0.3" xml:space="preserve">EUR/USD, 1D</text>
<text x="108.7" y="24.7" textLength="8.6" lengthAdjust="spacingAndGlyphs" font-family="Liberation Sans, sans-serif" font-size="15.2" font-weight="normal" fill="#131722" stroke="#131722" stroke-width="0.3" xml:space="preserve">O</text>
<text x="119.3" y="24.7" textLength="52.0" lengthAdjust="spacingAndGlyphs" font-family="Liberation Sans, sans-serif" font-size="15.2" font-weight="normal" fill="#f23645" stroke="#f23645" stroke-width="0.3" xml:space="preserve">1.19650</text>
<text x="181.4" y="24.7" textLength="9.0" lengthAdjust="spacingAndGlyphs" font-family="Liberation Sans, sans-serif" font-size="15.2" font-weight="normal" fill="#131722" stroke="#131722" stroke-width="0.3" xml:space="preserve">H</text>
<text x="192.1" y="24.7" textLength="50.3" lengthAdjust="spacingAndGlyphs" font-family="Liberation Sans, sans-serif" font-size="15.2" font-weight="normal" fill="#f23645" stroke="#f23645" stroke-width="0.3" xml:space="preserve">1.19747</text>
<text x="253.3" y="24.7" textLength="6.2" lengthAdjust="spacingAndGlyphs" font-family="Liberation Sans, sans-serif" font-size="15.2" font-weight="normal" fill="#131722" stroke="#131722" stroke-width="0.3" xml:space="preserve">L</text>
<text x="261.8" y="24.7" textLength="49.8" lengthAdjust="spacingAndGlyphs" font-family="Liberation Sans, sans-serif" font-size="15.2" font-weight="normal" fill="#f23645" stroke="#f23645" stroke-width="0.3" xml:space="preserve">1.18531</text>
<text x="322.5" y="24.7" textLength="7.7" lengthAdjust="spacingAndGlyphs" font-family="Liberation Sans, sans-serif" font-size="15.2" font-weight="normal" fill="#131722" stroke="#131722" stroke-width="0.3" xml:space="preserve">C</text>
<text x="332.4" y="24.7" textLength="49.8" lengthAdjust="spacingAndGlyphs" font-family="Liberation Sans, sans-serif" font-size="15.2" font-weight="normal" fill="#f23645" stroke="#f23645" stroke-width="0.3" xml:space="preserve">1.18531</text>
<text x="394" y="24.7" textLength="58.3" lengthAdjust="spacingAndGlyphs" font-family="Liberation Sans, sans-serif" font-size="15.2" font-weight="normal" fill="#f23645" stroke="#f23645" stroke-width="0.3" xml:space="preserve">−0.01117</text>
<text x="459.6" y="24.7" textLength="55.6" lengthAdjust="spacingAndGlyphs" font-family="Liberation Sans, sans-serif" font-size="15.2" font-weight="normal" fill="#f23645" stroke="#f23645" stroke-width="0.3" xml:space="preserve">(−0.93%)</text>
<text x="11.2" y="46.7" textLength="300.8" lengthAdjust="spacingAndGlyphs" font-family="Liberation Sans, sans-serif" font-size="15.2" font-weight="normal" fill="#131722" stroke="#131722" stroke-width="0.3" xml:space="preserve">Moving Average Triple (50, 100, 200, Simple)</text>
<text x="322.9" y="46.7" textLength="51.1" lengthAdjust="spacingAndGlyphs" font-family="Liberation Sans, sans-serif" font-size="15.2" font-weight="normal" fill="#ff6d00" stroke="#ff6d00" stroke-width="0.3" xml:space="preserve">1.17123</text>
<text x="384.9" y="46.7" textLength="50.7" lengthAdjust="spacingAndGlyphs" font-family="Liberation Sans, sans-serif" font-size="15.2" font-weight="normal" fill="#2196f3" stroke="#2196f3" stroke-width="0.3" xml:space="preserve">1.16773</text>
<text x="446.5" y="46.7" textLength="51.4" lengthAdjust="spacingAndGlyphs" font-family="Liberation Sans, sans-serif" font-size="15.2" font-weight="normal" fill="#26c6da" stroke="#26c6da" stroke-width="0.3" xml:space="preserve">1.16075</text>
<text x="11.7" y="505.2" textLength="51.1" lengthAdjust="spacingAndGlyphs" font-family="Liberation Sans, sans-serif" font-size="15.2" font-weight="normal" fill="#131722" stroke="#131722" stroke-width="0.3" xml:space="preserve">RSI (14)</text>
<text x="73.2" y="505.2" textLength="35.6" lengthAdjust="spacingAndGlyphs" font-family="Liberation Sans, sans-serif" font-size="15.2" font-weight="normal" fill="#7e57c2" stroke="#7e57c2" stroke-width="0.3" xml:space="preserve">56.95</text>
<rect x="1460.3" y="0" width="75.70000000000005" height="479.8" fill="#fff"/>
<rect x="1460.3" y="481.1" width="75.70000000000005" height="110" fill="#fff"/>
<text x="1471.8" y="19.5" textLength="52.5" lengthAdjust="spacingAndGlyphs" font-family="Liberation Sans, sans-serif" font-size="15.5" font-weight="normal" fill="#131722" stroke="#131722" stroke-width="0.3" xml:space="preserve">1.22000</text>
<text x="1471.8" y="79.39999999999999" textLength="52.5" lengthAdjust="spacingAndGlyphs" font-family="Liberation Sans, sans-serif" font-size="15.5" font-weight="normal" fill="#131722" stroke="#131722" stroke-width="0.3" xml:space="preserve">1.20000</text>
<text x="1471.8" y="318.8" textLength="52.5" lengthAdjust="spacingAndGlyphs" font-family="Liberation Sans, sans-serif" font-size="15.5" font-weight="normal" fill="#131722" stroke="#131722" stroke-width="0.3" xml:space="preserve">1.12000</text>
<text x="1471.8" y="378.8" textLength="52.5" lengthAdjust="spacingAndGlyphs" font-family="Liberation Sans, sans-serif" font-size="15.5" font-weight="normal" fill="#131722" stroke="#131722" stroke-width="0.3" xml:space="preserve">1.10000</text>
<text x="1471.8" y="438.40000000000003" textLength="52.5" lengthAdjust="spacingAndGlyphs" font-family="Liberation Sans, sans-serif" font-size="15.5" font-weight="normal" fill="#131722" stroke="#131722" stroke-width="0.3" xml:space="preserve">1.08000</text>
<text x="1472" y="502.2" textLength="36.6" lengthAdjust="spacingAndGlyphs" font-family="Liberation Sans, sans-serif" font-size="15.5" font-weight="normal" fill="#131722" stroke="#131722" stroke-width="0.3" xml:space="preserve">75.00</text>
<text x="1472" y="546.1999999999999" textLength="36.6" lengthAdjust="spacingAndGlyphs" font-family="Liberation Sans, sans-serif" font-size="15.5" font-weight="normal" fill="#131722" stroke="#131722" stroke-width="0.3" xml:space="preserve">50.00</text>
<rect x="1460.3" y="38.3" width="71.7" height="21.6" rx="2.5" fill="#000"/>
<text x="1471.8" y="54.6" textLength="52.4" lengthAdjust="spacingAndGlyphs" font-family="Liberation Sans, sans-serif" font-size="15.5" font-weight="normal" fill="#fff" stroke="#fff" stroke-width="0.4" xml:space="preserve">1.20821</text>
<rect x="1460.3" y="85.4" width="71.7" height="21.6" rx="2.5" fill="#000"/>
<text x="1471.8" y="101.7" textLength="52.4" lengthAdjust="spacingAndGlyphs" font-family="Liberation Sans, sans-serif" font-size="15.5" font-weight="normal" fill="#fff" stroke="#fff" stroke-width="0.4" xml:space="preserve">1.19188</text>
<rect x="1460.3" y="128.8" width="71.7" height="21.6" rx="2.5" fill="#000"/>
<text x="1471.8" y="145.1" textLength="52.4" lengthAdjust="spacingAndGlyphs" font-family="Liberation Sans, sans-serif" font-size="15.5" font-weight="normal" fill="#fff" stroke="#fff" stroke-width="0.4" xml:space="preserve">1.18300</text>
<rect x="1460.3" y="149.8" width="71.7" height="21.6" rx="2.5" fill="#000"/>
<text x="1471.8" y="166.1" textLength="52.4" lengthAdjust="spacingAndGlyphs" font-family="Liberation Sans, sans-serif" font-size="15.5" font-weight="normal" fill="#fff" stroke="#fff" stroke-width="0.4" xml:space="preserve">1.17890</text>
<rect x="1460.3" y="107.0" width="71.7" height="22" rx="2.5" fill="#f23645"/>
<text x="1471.8" y="123.5" textLength="52.4" lengthAdjust="spacingAndGlyphs" font-family="Liberation Sans, sans-serif" font-size="15.5" font-weight="normal" fill="#fff" stroke="#fff" stroke-width="0.4" xml:space="preserve">1.18531</text>
<rect x="1460.3" y="171.2" width="71.7" height="21.6" rx="2.5" fill="#ff6d00"/>
<text x="1471.8" y="187.5" textLength="52.4" lengthAdjust="spacingAndGlyphs" font-family="Liberation Sans, sans-serif" font-size="15.5" font-weight="normal" fill="#fff" stroke="#fff" stroke-width="0.4" xml:space="preserve">1.17123</text>
<rect x="1460.3" y="192.4" width="71.7" height="21.6" rx="2.5" fill="#2196f3"/>
<text x="1471.8" y="208.7" textLength="52.4" lengthAdjust="spacingAndGlyphs" font-family="Liberation Sans, sans-serif" font-size="15.5" font-weight="normal" fill="#fff" stroke="#fff" stroke-width="0.4" xml:space="preserve">1.16773</text>
<rect x="1460.3" y="213.6" width="71.7" height="21.6" rx="2.5" fill="#26c6da"/>
<text x="1471.8" y="229.9" textLength="52.4" lengthAdjust="spacingAndGlyphs" font-family="Liberation Sans, sans-serif" font-size="15.5" font-weight="normal" fill="#131722" stroke="#131722" stroke-width="0.4" xml:space="preserve">1.16075</text>
<rect x="1460.3" y="235.0" width="71.7" height="21.6" rx="2.5" fill="#000"/>
<text x="1471.8" y="251.3" textLength="52.4" lengthAdjust="spacingAndGlyphs" font-family="Liberation Sans, sans-serif" font-size="15.5" font-weight="normal" fill="#fff" stroke="#fff" stroke-width="0.4" xml:space="preserve">1.15568</text>
<rect x="1460.3" y="256.4" width="71.7" height="21.6" rx="2.5" fill="#000"/>
<text x="1471.8" y="272.7" textLength="52.4" lengthAdjust="spacingAndGlyphs" font-family="Liberation Sans, sans-serif" font-size="15.5" font-weight="normal" fill="#fff" stroke="#fff" stroke-width="0.4" xml:space="preserve">1.14688</text>
<rect x="1460.3" y="517.6" width="53.7" height="21.5" rx="2.5" fill="#7e57c2"/>
<text x="1472" y="533.8" textLength="36.6" lengthAdjust="spacingAndGlyphs" font-family="Liberation Sans, sans-serif" font-size="15.5" font-weight="normal" fill="#fff" stroke="#fff" stroke-width="0.4" xml:space="preserve">56.95</text>
<text x="60.0" y="607.6" textLength="22.5" lengthAdjust="spacingAndGlyphs" font-family="Liberation Sans, sans-serif" font-size="15" font-weight="normal" fill="#131722" stroke="#131722" stroke-width="0.2" xml:space="preserve">Jun</text>
<text x="220.0" y="607.6" textLength="19.0" lengthAdjust="spacingAndGlyphs" font-family="Liberation Sans, sans-serif" font-size="15" font-weight="normal" fill="#131722" stroke="#131722" stroke-width="0.2" xml:space="preserve">Jul</text>
<text x="391.0" y="607.6" textLength="24.0" lengthAdjust="spacingAndGlyphs" font-family="Liberation Sans, sans-serif" font-size="15" font-weight="normal" fill="#131722" stroke="#131722" stroke-width="0.2" xml:space="preserve">Aug</text>
<text x="549.0" y="607.6" textLength="23.5" lengthAdjust="spacingAndGlyphs" font-family="Liberation Sans, sans-serif" font-size="15" font-weight="normal" fill="#131722" stroke="#131722" stroke-width="0.2" xml:space="preserve">Sep</text>
<text x="715.0" y="607.6" textLength="23.5" lengthAdjust="spacingAndGlyphs" font-family="Liberation Sans, sans-serif" font-size="15" font-weight="normal" fill="#131722" stroke="#131722" stroke-width="0.2" xml:space="preserve">Oct</text>
<text x="887.0" y="607.6" textLength="26.0" lengthAdjust="spacingAndGlyphs" font-family="Liberation Sans, sans-serif" font-size="15" font-weight="normal" fill="#131722" stroke="#131722" stroke-width="0.2" xml:space="preserve">Nov</text>
<text x="1038.0" y="607.6" textLength="25.0" lengthAdjust="spacingAndGlyphs" font-family="Liberation Sans, sans-serif" font-size="15" font-weight="normal" fill="#131722" stroke="#131722" stroke-width="0.2" xml:space="preserve">Dec</text>
<text x="1206.8" y="607.6" textLength="34.0" lengthAdjust="spacingAndGlyphs" font-family="Liberation Sans, sans-serif" font-size="15" font-weight="bold" fill="#131722" stroke="#131722" stroke-width="0.2" xml:space="preserve">2026</text>
<text x="1377.0" y="607.6" textLength="25.0" lengthAdjust="spacingAndGlyphs" font-family="Liberation Sans, sans-serif" font-size="15" font-weight="normal" fill="#131722" stroke="#131722" stroke-width="0.2" xml:space="preserve">Feb</text>
<rect x="0" y="0" width="1536" height="1.8" fill="#eef0f5"/><rect x="0" y="0" width="1.8" height="621" fill="#eef0f5"/>
<rect x="0" y="618.4" width="1536" height="2.6" fill="#eef0f5"/><rect x="1533.8" y="0" width="2.2" height="621" fill="#eef0f5"/>
</svg>
</body></html>
